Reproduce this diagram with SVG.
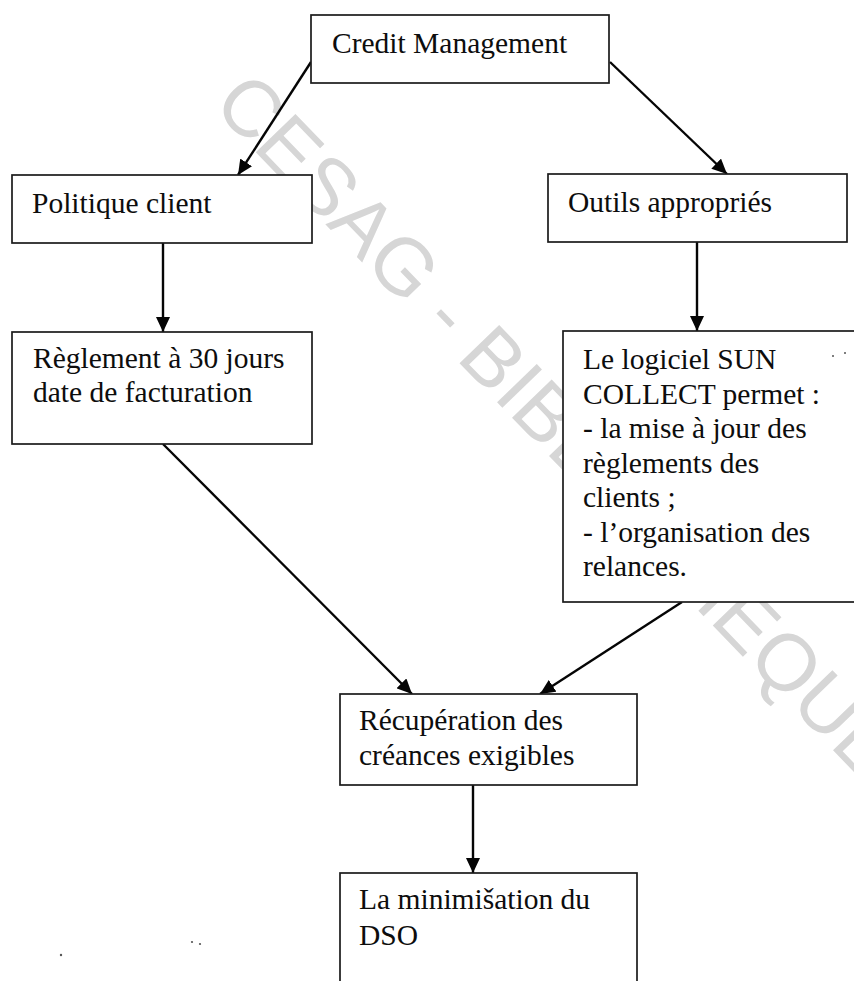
<svg xmlns="http://www.w3.org/2000/svg" width="854" height="981" viewBox="0 0 854 981">
  <style>
    .box { fill: #ffffff; stroke: #1a1a1a; stroke-width: 1.7; }
    .lbl { font-family: "Liberation Serif", "Times New Roman", serif; font-size: 29.5px; fill: #0d0d0d; }
    .edge { stroke: #050505; stroke-width: 2.4; fill: none; marker-end: url(#head); }
    .mark { font-family: "Liberation Sans", Arial, sans-serif; font-size: 80px; fill: #d6d6d6; }
    .speck { fill: #555555; }
  </style>
  <defs>
    <marker id="head" markerUnits="userSpaceOnUse" markerWidth="16" markerHeight="14" refX="15" refY="7" orient="auto">
      <path d="M0,0 L15,7 L0,14 Z" fill="#050505"/>
    </marker>
  </defs>

  <rect width="854" height="981" fill="#ffffff"/>

  <!-- library stamp running diagonally behind the chart -->
  <text class="mark" x="211" y="106" transform="rotate(46 211 106)">CESAG - BIBLIOTHEQUE</text>

  <g id="connectors">
    <line class="edge" x1="311" y1="62" x2="238" y2="175"/>
    <line class="edge" x1="610" y1="62" x2="727" y2="174"/>
    <line class="edge" x1="163" y1="243" x2="163" y2="332"/>
    <line class="edge" x1="697" y1="242" x2="697" y2="331"/>
    <line class="edge" x1="163" y1="444" x2="412" y2="694"/>
    <line class="edge" x1="682" y1="602" x2="540" y2="694"/>
    <line class="edge" x1="473" y1="785" x2="473" y2="873"/>
  </g>

  <g id="credit-management">
    <rect class="box" x="311" y="15" width="298" height="68"/>
    <text class="lbl" x="332" y="53">Credit Management</text>
  </g>

  <g id="politique-client">
    <rect class="box" x="12" y="175" width="300" height="68"/>
    <text class="lbl" x="32" y="213">Politique client</text>
  </g>

  <g id="outils-appropries">
    <rect class="box" x="548" y="174" width="299" height="68"/>
    <text class="lbl" x="568" y="212">Outils appropriés</text>
  </g>

  <g id="reglement">
    <rect class="box" x="12" y="332" width="300" height="112"/>
    <text class="lbl" x="33" y="368">Règlement à 30 jours</text>
    <text class="lbl" x="33" y="402">date de facturation</text>
  </g>

  <g id="sun-collect">
    <rect class="box" x="563" y="331" width="310" height="271"/>
    <text class="lbl" x="583">
      <tspan x="583" y="369">Le logiciel SUN</tspan>
      <tspan x="583" y="403.5">COLLECT permet :</tspan>
      <tspan x="583" y="438">- la mise à jour des</tspan>
      <tspan x="583" y="472.5">règlements des</tspan>
      <tspan x="583" y="507">clients ;</tspan>
      <tspan x="583" y="541.5">- l’organisation des</tspan>
      <tspan x="583" y="576">relances.</tspan>
    </text>
  </g>

  <g id="recuperation">
    <rect class="box" x="340" y="694" width="297" height="91"/>
    <text class="lbl" x="359" y="730">Récupération des</text>
    <text class="lbl" x="359" y="765">créances exigibles</text>
  </g>

  <g id="minimisation">
    <rect class="box" x="340" y="873" width="297" height="130"/>
    <text class="lbl" x="359" y="909">La minimišation du</text>
    <text class="lbl" x="359" y="945">DSO</text>
  </g>

  <!-- stray specks -->
  <circle class="speck" cx="61" cy="955" r="1.2"/>
  <circle class="speck" cx="192" cy="942" r="1.1"/>
  <circle class="speck" cx="200" cy="944" r="1.1"/>
  <circle class="speck" cx="833" cy="356" r="1"/>
  <circle class="speck" cx="845" cy="353" r="1"/>
</svg>
